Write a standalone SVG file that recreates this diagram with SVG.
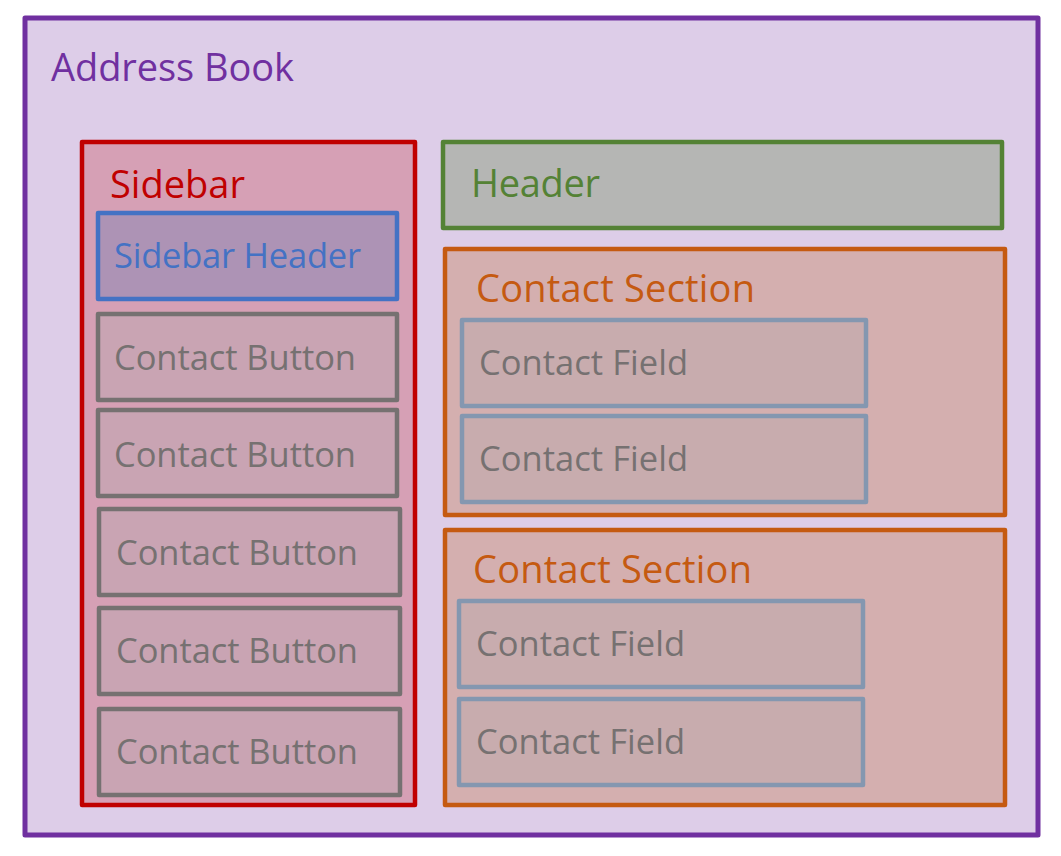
<svg xmlns="http://www.w3.org/2000/svg" width="1061" height="856" viewBox="0 0 1061 856">
<style>
text{font-family:"Open Sans","Noto Sans","DejaVu Sans",sans-serif;}
rect.n{stroke-linejoin:round;}
.big{font-size:38px;}
.small{font-size:34.5px;}
.btn rect{fill:#C9A4B3;stroke:#767171;stroke-width:4.5;}
.btn text{fill:#767171;}
.fld rect{fill:#C8ACAE;stroke:#8497B0;stroke-width:4.5;}
.fld text{fill:#767171;}
.sec rect{fill:#D4AFAF;stroke:#C55A11;stroke-width:4.5;}
.sec text{fill:#C55A11;}
</style>
<rect width="1061" height="856" fill="#FFFFFF"/>
<g id="address-book">
<rect class="n" x="25" y="18" width="1013" height="817" fill="#DDCDE8" stroke="#7030A0" stroke-width="5"/>
<text class="big" x="51" y="81" fill="#7030A0" textLength="243">Address Book</text>
</g>
<g id="sidebar">
<rect class="n" x="82" y="142" width="333" height="663" fill="#D6A0B5" stroke="#C00000" stroke-width="4.5"/>
<text class="big" x="110" y="198" fill="#C00000" textLength="135">Sidebar</text>
</g>
<g id="sidebar-header">
<rect class="n" x="98" y="213" width="299" height="86" fill="#AD93B5" stroke="#4472C4" stroke-width="4.5"/>
<text class="small" x="114" y="268" fill="#4472C4" textLength="247">Sidebar Header</text>
</g>
<g id="contact-button-1" class="btn">
<rect class="n" x="98" y="314" width="299" height="86"/>
<text class="small" x="114" y="370" textLength="242">Contact Button</text>
</g>
<g id="contact-button-2" class="btn">
<rect class="n" x="98" y="410" width="299" height="86"/>
<text class="small" x="114" y="467" textLength="242">Contact Button</text>
</g>
<g id="contact-button-3" class="btn">
<rect class="n" x="99" y="509" width="301" height="86"/>
<text class="small" x="116" y="565" textLength="242">Contact Button</text>
</g>
<g id="contact-button-4" class="btn">
<rect class="n" x="99" y="608" width="301" height="86"/>
<text class="small" x="116" y="663" textLength="242">Contact Button</text>
</g>
<g id="contact-button-5" class="btn">
<rect class="n" x="99" y="709" width="301" height="86"/>
<text class="small" x="116" y="764" textLength="242">Contact Button</text>
</g>
<g id="header">
<rect class="n" x="443" y="142" width="559" height="86" fill="#B5B6B4" stroke="#548235" stroke-width="4.5"/>
<text class="big" x="471" y="197" fill="#548235" textLength="129">Header</text>
</g>
<g id="contact-section-1" class="sec">
<rect class="n" x="445" y="249" width="560" height="266"/>
<text class="big" x="476" y="302" textLength="279">Contact Section</text>
</g>
<g id="contact-field-1" class="fld">
<rect class="n" x="462" y="320" width="404" height="86"/>
<text class="small" x="479" y="375" textLength="209">Contact Field</text>
</g>
<g id="contact-field-2" class="fld">
<rect class="n" x="462" y="416" width="404" height="86"/>
<text class="small" x="479" y="471" textLength="209">Contact Field</text>
</g>
<g id="contact-section-2" class="sec">
<rect class="n" x="445" y="530" width="560" height="275"/>
<text class="big" x="473" y="583" textLength="279">Contact Section</text>
</g>
<g id="contact-field-3" class="fld">
<rect class="n" x="459" y="601" width="404" height="86"/>
<text class="small" x="476" y="656" textLength="209">Contact Field</text>
</g>
<g id="contact-field-4" class="fld">
<rect class="n" x="459" y="699" width="404" height="86"/>
<text class="small" x="476" y="754" textLength="209">Contact Field</text>
</g>
<g id="connectors"/>
</svg>
